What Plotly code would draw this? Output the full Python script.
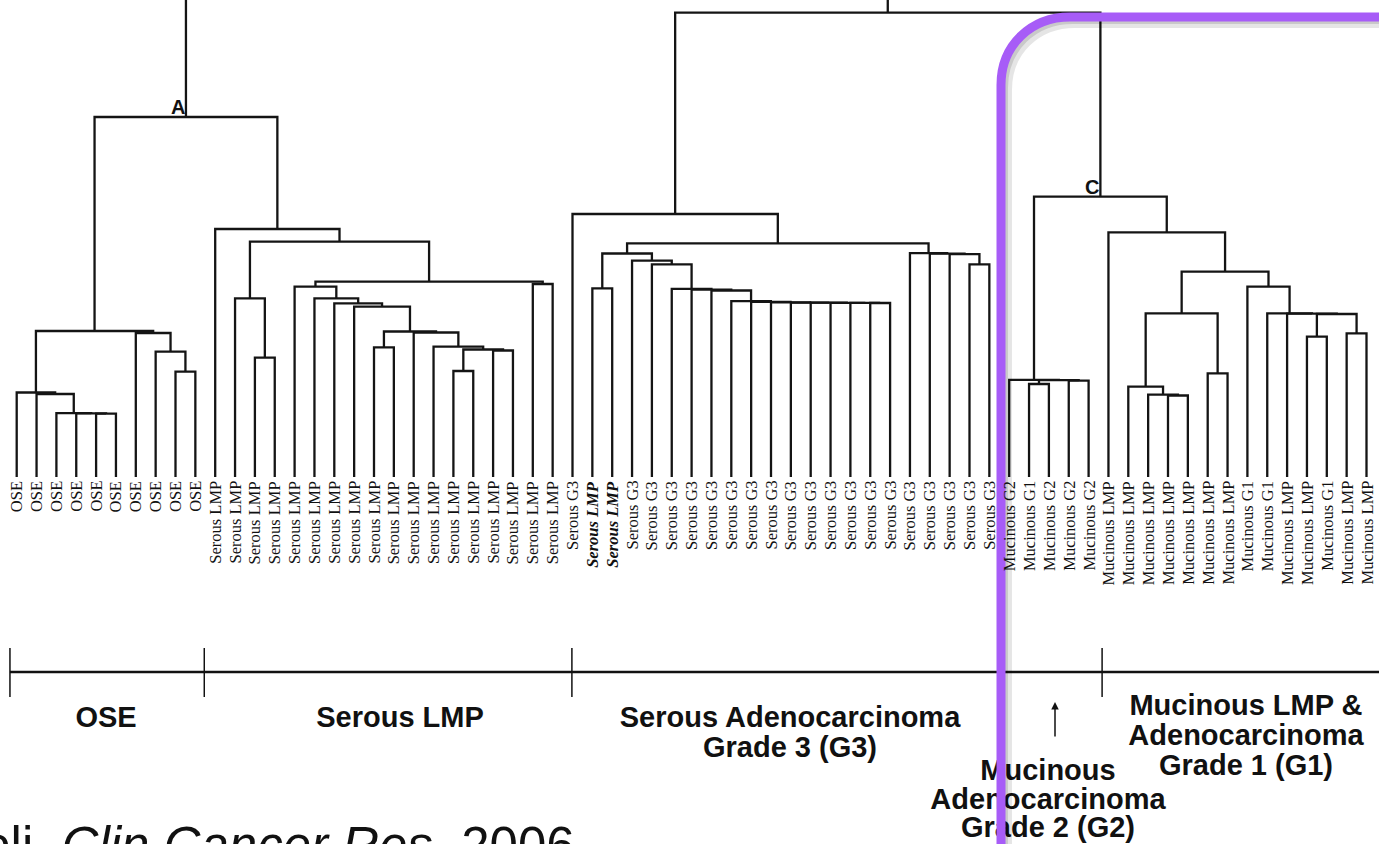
import plotly.graph_objects as go

# ---------------- data ----------------
leaf_labels = (["OSE"] * 10 + ["Serous LMP"] * 18 + ["Serous G3"] + ["Serous LMP"] * 2 + ["Serous G3"] * 19
               + ["Mucinous G2", "Mucinous G1", "Mucinous G2", "Mucinous G2", "Mucinous G2"]
               + ["Mucinous LMP"] * 7 + ["Mucinous G1"] * 2 + ["Mucinous LMP"] * 2
               + ["Mucinous G1"] + ["Mucinous LMP"] * 2)
emphasised_leaves = [29, 30]

# agglomeration steps: ids < 69 are samples, id 69+k is the cluster made at step k
merge_left = [4, 3, 2, 1, 0, 8, 7, 6, 73,
              12, 11, 18, 22, 24, 81, 21, 20, 80, 17, 16, 15, 14, 26, 90, 79, 10, 77,
              29, 43, 42, 41, 40, 39, 38, 37, 36, 35, 34, 33, 32, 31, 96, 48, 47, 46, 45, 110, 28,
              51, 53, 117, 50, 58, 57, 56, 60, 123, 65, 67, 126, 64, 63, 62, 125, 55, 120,
              116, 95]
merge_right = [5, 69, 70, 71, 72, 9, 74, 75, 76,
               13, 78, 19, 23, 25, 82, 83, 84, 85, 86, 87, 88, 89, 27, 91, 92, 93, 94,
               30, 44, 97, 98, 99, 100, 101, 102, 103, 104, 105, 106, 107, 108, 109, 49, 111, 112, 113, 114, 115,
               52, 54, 118, 119, 59, 121, 122, 61, 124, 66, 68, 127, 128, 129, 130, 131, 132, 133,
               134, 135]
merge_height = [0.634, 0.636, 0.638, 0.830, 0.845, 1.053, 1.253, 1.440, 1.460,
                1.193, 1.787, 1.297, 1.060, 1.265, 1.275, 1.303, 1.445, 1.455, 1.703, 1.737, 1.787,
                1.903, 1.930, 1.953, 2.353, 2.480, 3.600,
                1.887, 1.740, 1.741, 1.742, 1.743, 1.744, 1.746, 1.752, 1.758, 1.865, 1.874, 1.882,
                2.127, 2.163, 2.235, 2.127, 2.228, 2.233, 2.238, 2.337, 2.630,
                0.930, 0.964, 0.968, 0.972, 0.815, 0.823, 0.903, 1.037, 1.637, 1.403, 1.437, 1.630,
                1.633, 1.636, 1.903, 2.053, 2.447, 2.803,
                4.643, 5.800]

cluster_letters = ["A", "C"]
cluster_letter_nodes = [95, 134]

group_edges = [-0.34, 9.45, 27.97, 54.68]
group_titles = [["OSE"], ["Serous LMP"], ["Serous Adenocarcinoma", "Grade 3 (G3)"],
                ["Mucinous", "Adenocarcinoma", "Grade 2 (G2)"],
                ["Mucinous LMP &", "Adenocarcinoma", "Grade 1 (G1)"]]
citation = "Wamunyokoli, <i>Clin Cancer Res</i>, 2006"

# ---------------- geometry helpers ----------------
W, H = 1379, 844
STEP, LEAF0, BASE, UNIT = 19.85, 16.7, 477.0, 100.0
x_range = [-LEAF0 / STEP, (W - LEAF0) / STEP]
y_range = [(BASE - H) / UNIT, BASE / UNIT]


def px_x(p):
    return (p - LEAF0) / STEP


def px_y(p):
    return (BASE - p) / UNIT


def paper(px, py):
    return "%.5f,%.5f" % (px / W, 1 - py / H)


# ---------------- dendrogram ----------------
n = len(leaf_labels)
xpos = [float(i) for i in range(n)]
hpos = [0.0] * n
xs, ys = [], []
for l, r, h in zip(merge_left, merge_right, merge_height):
    xs += [xpos[l], xpos[l], xpos[r], xpos[r], None]
    ys += [hpos[l], h, h, hpos[r], None]
    xpos.append((xpos[l] + xpos[r]) / 2)
    hpos.append(h)

fig = go.Figure()
fig.add_trace(go.Scatter(x=xs, y=ys, mode="lines", line=dict(color="#141414", width=2.3),
                         hoverinfo="skip", showlegend=False))

# group titles (as a text trace, so the highlight frame is drawn over them)
title_layout = [(106, [720]), (400, [720]), (790, [720, 750]), (1048, [773, 802, 830]),
                (1246, [708, 738, 768])]
tx, ty, tt = [], [], []
for lines, (cx, lys) in zip(group_titles, title_layout):
    for line, ly in zip(lines, lys):
        tx.append(px_x(cx))
        ty.append(px_y(ly))
        tt.append(line)
fig.add_trace(go.Scatter(x=tx, y=ty, text=tt, mode="text", textposition="middle center",
                         textfont=dict(family="Liberation Sans, Arial", size=29, color="#111",
                                       weight="bold"),
                         hoverinfo="skip", showlegend=False))

annotations = []
for i, lab in enumerate(leaf_labels):
    txt = "<b><i>%s</i></b>" % lab if i in emphasised_leaves else lab
    annotations.append(dict(x=i, y=px_y(479), text=txt, textangle=-90, showarrow=False,
                            xanchor="center", yanchor="top",
                            font=dict(family="Liberation Serif, Times New Roman", size=16.5,
                                      color="#111")))
for letter, node in zip(cluster_letters, cluster_letter_nodes):
    annotations.append(dict(x=xpos[node], y=hpos[node], text="<b>%s</b>" % letter,
                            showarrow=False, xanchor="right", yanchor="bottom", xshift=1,
                            yshift=-3,
                            font=dict(family="Liberation Sans, Arial", size=20, color="#111")))
# arrow pointing at the G2 boundary
annotations.append(dict(x=px_x(1055), y=px_y(702), ax=px_x(1055), ay=px_y(738), axref="x",
                        ayref="y", text="", showarrow=True, arrowhead=2, arrowsize=1,
                        arrowwidth=1.5, arrowcolor="#111"))
annotations.append(dict(x=px_x(577), y=px_y(815), text=citation, showarrow=False,
                        xanchor="right", yanchor="top",
                        font=dict(family="Liberation Sans, Arial", size=51, color="#111")))

shapes = []
yb = px_y(672)
shapes.append(dict(type="line", xref="x", yref="y", x0=group_edges[0], x1=x_range[1] + 1,
                   y0=yb, y1=yb, line=dict(color="#111", width=2.5)))
for e in group_edges:
    shapes.append(dict(type="line", xref="x", yref="y", x0=e, x1=e, y0=px_y(648), y1=px_y(697),
                       line=dict(color="#111", width=1.5)))

frame = [(1001, 900), (1001, 85), (1001, 45), (1031, 17), (1070, 17), (1420, 17)]


def frame_path(dx, dy):
    p = [paper(x + dx, y + dy) for x, y in frame]
    return "M%s L%s C%s %s %s L%s" % tuple(p)


shapes.append(dict(type="path", xref="paper", yref="paper", path=frame_path(5, 5),
                   line=dict(color="rgba(0,0,0,0.10)", width=12), layer="above"))
shapes.append(dict(type="path", xref="paper", yref="paper", path=frame_path(3, 3),
                   line=dict(color="rgba(0,0,0,0.12)", width=8), layer="above"))
shapes.append(dict(type="path", xref="paper", yref="paper", path=frame_path(0, 0),
                   line=dict(color="#A75CF7", width=9), layer="above"))

fig.update_layout(width=W, height=H, margin=dict(l=0, r=0, t=0, b=0),
                  paper_bgcolor="white", plot_bgcolor="white", showlegend=False,
                  xaxis=dict(visible=False, range=x_range, fixedrange=True),
                  yaxis=dict(visible=False, range=y_range, fixedrange=True),
                  annotations=annotations, shapes=shapes)

fig.write_html("out.html", config={"displayModeBar": False},
               post_script="document.body.style.margin='0';document.body.style.overflow='hidden';")
